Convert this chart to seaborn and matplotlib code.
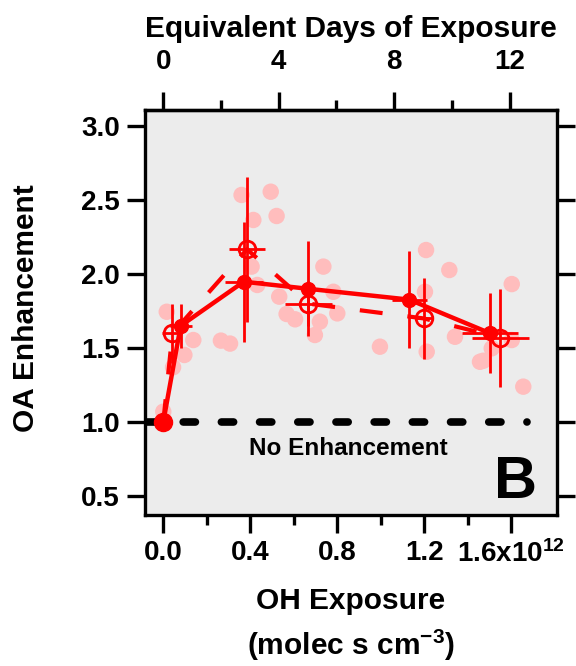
import numpy as np
import pandas as pd
import matplotlib
matplotlib.use("Agg")
import matplotlib.pyplot as plt
import seaborn as sns
from matplotlib.ticker import FixedLocator

# ---------------- data (OH exposure in units of 1e12 molec s cm^-3) ----------------
dots_x = [0.016, 0.138, 0.097, 0.265, 0.307, 0.0, 0.045,
          0.360, 0.494, 0.414, 0.521, 0.406, 0.432, 0.533, 0.567, 0.606,
          0.736, 0.782, 0.800, 0.720, 0.697, 0.996,
          1.208, 1.315, 1.203, 1.341, 1.211, 1.456,
          1.602, 1.602, 1.510, 1.471, 1.655]
dots_y = [1.745, 1.554, 1.453, 1.550, 1.530, 1.070, 1.370,
          2.534, 2.556, 2.365, 2.392, 2.050, 1.926, 1.847, 1.730, 1.694,
          2.050, 1.880, 1.734, 1.678, 1.588, 1.509,
          2.162, 2.027, 1.880, 1.576, 1.475, 1.407,
          1.932, 1.554, 1.498, 1.414, 1.239]

avg_x = [0.0, 0.080, 0.370, 0.667, 1.131, 1.502]
avg_y = [1.0, 1.650, 1.948, 1.900, 1.827, 1.600]
avg_xerr = [0.0, 0.050, 0.087, 0.030, 0.080, 0.130]
avg_yerr = [0.0, 0.150, 0.405, 0.320, 0.330, 0.270]

med_x = [0.0, 0.042, 0.385, 0.667, 1.197, 1.550]
med_y = [1.0, 1.600, 2.167, 1.800, 1.700, 1.570]
med_xerr = [0.0, 0.046, 0.083, 0.107, 0.040, 0.130]
med_yerr = [0.0, 0.200, 0.488, 0.150, 0.276, 0.330]

baseline_x = [-0.084, 1.67]
baseline_y = [1.0, 1.0]

xticks = [0.0, 0.4, 0.8, 1.2, 1.6]
xticklabels = ["0.0", "0.4", "0.8", "1.2", r"1.6x10$^{12}$"]
xminor = [0.2, 0.6, 1.0, 1.4]
yticks = [0.5, 1.0, 1.5, 2.0, 2.5, 3.0]
day_ticks = [0, 4, 8, 12]
day_minor = [2, 6, 10]
DAY = 0.1327  # 1 day of exposure in 1e12 molec s cm^-3

# ---------------- style ----------------
sns.set_theme(style="white")
plt.rcParams["font.family"] = ["Liberation Sans", "DejaVu Sans"]
plt.rcParams["font.weight"] = "bold"
plt.rcParams["axes.labelweight"] = "bold"
plt.rcParams["text.color"] = "black"
plt.rcParams["axes.labelcolor"] = "black"
plt.rcParams["xtick.color"] = "black"
plt.rcParams["ytick.color"] = "black"
plt.rcParams["mathtext.fontset"] = "custom"
plt.rcParams["mathtext.rm"] = "Liberation Sans:bold"
plt.rcParams["mathtext.it"] = "Liberation Sans:bold"
plt.rcParams["mathtext.bf"] = "Liberation Sans:bold"

RED = "#ff0000"
PINK = "#ffbdbd"
TICKFS = 20
LABELFS = 21.5

fig = plt.figure(figsize=(5.76, 6.66), dpi=100)
ax = fig.add_axes([145/576, 1-515/666, 412/576, 405/666])
ax.set_facecolor("#ececec")

dots = pd.DataFrame({"x": dots_x, "y": dots_y})
sns.scatterplot(data=dots, x="x", y="y", ax=ax, color=PINK, s=140,
                edgecolor="none", linewidth=0, zorder=2)

# no-enhancement reference
ax.plot(baseline_x, baseline_y, color="black", lw=5.5, dashes=(1.6, 3.4),
        dash_capstyle="round", zorder=3)

# averaged series (solid, filled)
avg = pd.DataFrame({"x": avg_x, "y": avg_y})
sns.lineplot(data=avg, x="x", y="y", ax=ax, color=RED, lw=3.2, sort=False,
             zorder=5, estimator=None)
ax.errorbar(avg_x[1:], avg_y[1:], xerr=avg_xerr[1:], yerr=avg_yerr[1:],
            fmt="none", ecolor=RED, elinewidth=2.0, capsize=0, zorder=4)
ax.plot(avg_x[1:], avg_y[1:], "o", color=RED, ms=10, mec=RED, zorder=6)
ax.plot(avg_x[:1], avg_y[:1], "o", color=RED, ms=13, mec=RED, zorder=6)

# median series (dashed, open)
med = pd.DataFrame({"x": med_x, "y": med_y})
sns.lineplot(data=med, x="x", y="y", ax=ax, color=RED, lw=3.0, sort=False,
             zorder=5, estimator=None, dashes=False, linestyle=(0, (5.5, 6)))
ax.errorbar(med_x[1:], med_y[1:], xerr=med_xerr[1:], yerr=med_yerr[1:],
            fmt="none", ecolor=RED, elinewidth=2.0, capsize=0, zorder=4)
ax.plot(med_x[1:], med_y[1:], "o", mfc="none", mec=RED, mew=2.0, ms=12, zorder=6)

ax.text(0.85, 0.822, "No Enhancement", ha="center", va="center",
        fontsize=17.5, fontweight="bold", color="black", zorder=7)
ax.text(0.951, 0.041, "B", transform=ax.transAxes, ha="right", va="baseline",
        fontsize=43, fontweight="bold", color="black", zorder=7)

# ---------------- axes ----------------
ax.set_xlim(-0.084, 1.81)
ax.set_ylim(0.372, 3.108)
ax.set_xticks(xticks)
ax.set_xticklabels(xticklabels)
ax.xaxis.set_minor_locator(FixedLocator(xminor))
ax.set_yticks(yticks)
ax.set_yticklabels([f"{v:.1f}" for v in yticks])

for s in ax.spines.values():
    s.set_linewidth(2.4)
    s.set_color("black")

ax.tick_params(axis="both", which="major", direction="out", length=13, width=2.4,
               labelsize=TICKFS, color="black", labelcolor="black", pad=5,
               bottom=True, left=True)
ax.tick_params(axis="x", which="minor", direction="out", length=7, width=2.4,
               color="black", bottom=True)
ax.tick_params(axis="y", right=True, labelright=False)
ax.tick_params(axis="x", top=False)
for lab in ax.get_xticklabels() + ax.get_yticklabels():
    lab.set_fontweight("bold")

ax.set_xlabel("OH Exposure\n(molec s cm$^{-3}$)", fontsize=LABELFS, fontweight="bold",
              linespacing=1.45, labelpad=14, color="black")
ax.set_ylabel("OA Enhancement", fontsize=LABELFS, fontweight="bold", color="black")
ax.yaxis.set_label_coords(-0.255, 0.51)

sec = ax.secondary_xaxis("top", functions=(lambda x: x / DAY, lambda d: d * DAY))
sec.set_xticks(day_ticks)
sec.set_xticklabels([str(d) for d in day_ticks])
sec.xaxis.set_minor_locator(FixedLocator(day_minor))
sec.tick_params(axis="x", which="major", direction="out", length=13, width=2.4,
                labelsize=TICKFS, pad=12, color="black", labelcolor="black")
sec.tick_params(axis="x", which="minor", direction="out", length=7, width=2.4,
                color="black")
sec.spines["top"].set_linewidth(2.4)
for lab in sec.get_xticklabels():
    lab.set_fontweight("bold")
sec.set_xlabel("Equivalent Days of Exposure", fontsize=LABELFS, fontweight="bold",
               labelpad=9, color="black")

fig.savefig("out.png", dpi=100, facecolor="white")
